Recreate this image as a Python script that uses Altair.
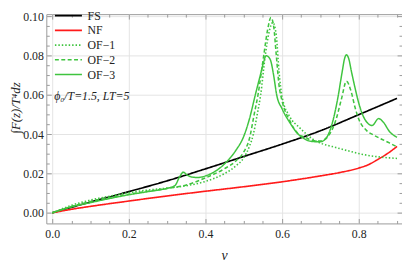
import altair as alt
import pandas as pd

# ---------------- data ----------------
series_names = ["FS", "NF", "OF−1", "OF−2", "OF−3"]

fs_v = [0, 0.05, 0.1, 0.2, 0.3, 0.4, 0.5, 0.6, 0.7, 0.8, 0.9]
fs_y = [0, 0.0028, 0.0055, 0.0108, 0.0163, 0.0224, 0.0287, 0.0350, 0.0418, 0.0500, 0.0583]

nf_v = [0, 0.05, 0.1, 0.2, 0.3, 0.4, 0.5, 0.6, 0.7, 0.75, 0.8, 0.825, 0.85, 0.875, 0.9]
nf_y = [0, 0.0018, 0.0033, 0.0060, 0.0086, 0.0110, 0.0133, 0.0158, 0.0188, 0.0205,
        0.0228, 0.0245, 0.0272, 0.0302, 0.0338]

of1_v = [0, 0.05, 0.1, 0.15, 0.2, 0.25, 0.3, 0.35, 0.4, 0.45, 0.48, 0.5, 0.515, 0.525,
         0.535, 0.544, 0.556, 0.566, 0.576, 0.585, 0.592, 0.6, 0.62, 0.645, 0.664, 0.68,
         0.7, 0.72, 0.74, 0.76, 0.78, 0.8, 0.82, 0.84, 0.86, 0.88, 0.9]
of1_y = [0, 0.0038, 0.0065, 0.0085, 0.0103, 0.0116, 0.0126, 0.0138, 0.0160, 0.0200, 0.0240,
         0.0280, 0.0340, 0.0400, 0.0500, 0.0600, 0.0800, 0.0920, 0.0970, 0.0900, 0.0720,
         0.0590, 0.0490, 0.0435, 0.0400, 0.0375, 0.0355, 0.0343, 0.0333, 0.0322, 0.0312,
         0.0302, 0.0294, 0.0288, 0.0283, 0.0280, 0.0277]

of2_v = [0, 0.05, 0.1, 0.15, 0.2, 0.25, 0.3, 0.35, 0.4, 0.45, 0.48, 0.5, 0.515, 0.527,
         0.537, 0.552, 0.562, 0.571, 0.578, 0.585, 0.592, 0.6, 0.62, 0.643, 0.66, 0.68,
         0.7, 0.72, 0.74, 0.755, 0.768, 0.78, 0.79, 0.8, 0.82, 0.84, 0.86, 0.88, 0.9]
of2_y = [0, 0.0032, 0.0058, 0.0078, 0.0095, 0.0110, 0.0124, 0.0142, 0.0178, 0.0225, 0.0265,
         0.0310, 0.0380, 0.0500, 0.0600, 0.0800, 0.0930, 0.0995, 0.0950, 0.0800, 0.0650,
         0.0570, 0.0470, 0.0400, 0.0385, 0.0368, 0.0366, 0.0390, 0.0470, 0.0580, 0.0670,
         0.0620, 0.0540, 0.0478, 0.0420, 0.0395, 0.0375, 0.0356, 0.0336]

of3_v = [0, 0.05, 0.1, 0.15, 0.2, 0.25, 0.3, 0.32, 0.333, 0.342, 0.352, 0.365, 0.38, 0.4,
         0.42, 0.44, 0.46, 0.48, 0.5, 0.515, 0.53, 0.545, 0.552, 0.558, 0.564, 0.571,
         0.578, 0.586, 0.6, 0.62, 0.64, 0.66, 0.68, 0.7, 0.715, 0.73, 0.745, 0.757, 0.763,
         0.768, 0.774, 0.781, 0.79, 0.8, 0.815, 0.835, 0.852, 0.865, 0.88, 0.9]
of3_y = [0, 0.0030, 0.0052, 0.0073, 0.0092, 0.0108, 0.0125, 0.0138, 0.0185, 0.0207, 0.0193,
         0.0182, 0.0180, 0.0188, 0.0205, 0.0232, 0.0270, 0.0320, 0.0390, 0.0480, 0.0600,
         0.0715, 0.0770, 0.0800, 0.0795, 0.0770, 0.0700, 0.0600, 0.0530, 0.0460, 0.0405,
         0.0375, 0.0363, 0.0362, 0.0380, 0.0450, 0.0580, 0.0720, 0.0785, 0.0805, 0.0785,
         0.0720, 0.0640, 0.0560, 0.0480, 0.0445, 0.0480, 0.0460, 0.0415, 0.0385]

x_major = [0.0, 0.2, 0.4, 0.6, 0.8]
x_minor = [0.05, 0.1, 0.15, 0.25, 0.3, 0.35, 0.45, 0.5, 0.55, 0.65, 0.7, 0.75, 0.85, 0.9]
y_major = [0.0, 0.02, 0.04, 0.06, 0.08, 0.10]
y_minor = [0.005, 0.01, 0.015, 0.025, 0.03, 0.035, 0.045, 0.05, 0.055, 0.065, 0.07,
           0.075, 0.085, 0.09, 0.095]

annotation = ["ϕ₀/T=1.5, LT=5"]
ann_v = [0.005]
ann_y = [0.0594]

# ---------------- build table ----------------
rows = []
for name, vs, ys in zip(series_names, [fs_v, nf_v, of1_v, of2_v, of3_v],
                        [fs_y, nf_y, of1_y, of2_y, of3_y]):
    for v, y in zip(vs, ys):
        rows.append({"v": v, "val": y, "series": name})
df = pd.DataFrame(rows)
ann_df = pd.DataFrame({"v": ann_v, "val": ann_y, "label": annotation})

SERIF = "Liberation Serif, Times New Roman, serif"
GREEN = "#3fc43f"
FRAME = "#9a9a9a"

x_scale = alt.Scale(domain=[-0.0154, 0.913], nice=False, zero=False)
y_scale = alt.Scale(domain=[-0.0054, 0.1012], nice=False, zero=False)

legend_kw = dict(orient="none", legendX=16, legendY=-5, title=None,
                 symbolType="M-2.5,0H2.5", symbolSize=121, symbolStrokeWidth=1.5,
                 labelOffset=13, labelFont=SERIF, labelFontSize=12,
                 labelColor="#222", rowPadding=2, padding=0)

lines = alt.Chart(df).mark_line(interpolate="monotone").encode(
    x=alt.X("v:Q", scale=x_scale,
            axis=alt.Axis(orient="bottom", values=x_major, format=".1f", grid=True,
                          gridColor="#e3e3e3", ticks=False, domain=False,
                          labelFont=SERIF, labelFontSize=12, labelColor="#222",
                          labelPadding=5, title="v", titleFont=SERIF,
                          titleFontStyle="italic", titleFontWeight="normal",
                          titleFontSize=14, titleColor="#222", titlePadding=10)),
    y=alt.Y("val:Q", scale=y_scale,
            axis=alt.Axis(orient="left", values=y_major, format=".2f", grid=True,
                          gridColor="#e3e3e3", ticks=False, domain=False,
                          labelFont=SERIF, labelFontSize=12, labelColor="#222",
                          labelPadding=3, title="∫F(z)/T⁴dz", titleFont=SERIF,
                          titleFontStyle="italic", titleFontWeight="normal",
                          titleFontSize=13, titleColor="#222", titleX=-31, titleY=95,
                          titleBaseline="middle", titleAngle=270)),
    color=alt.Color("series:N",
                    scale=alt.Scale(domain=series_names,
                                    range=["#000000", "#ff1a1a", GREEN, GREEN, GREEN]),
                    legend=alt.Legend(**legend_kw)),
    strokeDash=alt.StrokeDash("series:N",
                              scale=alt.Scale(domain=series_names,
                                              range=[[1, 0], [1, 0], [1.5, 2], [4, 2.5], [1, 0]]),
                              legend=alt.Legend(**legend_kw)),
    strokeWidth=alt.StrokeWidth("series:N",
                                scale=alt.Scale(domain=series_names,
                                                range=[1.7, 1.5, 1.4, 1.3, 1.4]),
                                legend=None),
)


def tick_layer(xorient, yorient, xvals, yvals, size):
    return alt.Chart(df).mark_point(opacity=0).encode(
        x=alt.X("v:Q", scale=x_scale,
                axis=alt.Axis(orient=xorient, values=xvals, labels=False, grid=False,
                              domain=False, ticks=True, tickSize=size, offset=-size,
                              tickColor=FRAME, tickWidth=1, title=None)),
        y=alt.Y("val:Q", scale=y_scale,
                axis=alt.Axis(orient=yorient, values=yvals, labels=False, grid=False,
                              domain=False, ticks=True, tickSize=size, offset=-size,
                              tickColor=FRAME, tickWidth=1, title=None)),
    )


ann = alt.Chart(ann_df).mark_text(align="left", baseline="middle", font=SERIF,
                                  fontStyle="italic", fontSize=12, color="#222").encode(
    x=alt.X("v:Q", scale=x_scale, axis=None),
    y=alt.Y("val:Q", scale=y_scale, axis=None),
    text="label:N",
)

chart = alt.layer(
    lines,
    tick_layer("bottom", "left", x_major, y_major, 5),
    tick_layer("bottom", "left", x_minor, y_minor, 3),
    tick_layer("top", "right", x_major, y_major, 5),
    tick_layer("top", "right", x_minor, y_minor, 3),
    ann,
).resolve_axis(x="independent", y="independent").properties(
    width=362, height=213,
    autosize=alt.AutoSizeParams(type="none"),
    padding={"left": 39, "top": 4, "right": 0, "bottom": 37},
).configure_view(stroke=FRAME, strokeWidth=1)

chart.save("out.html", embed_options={"renderer": "svg", "actions": False})
